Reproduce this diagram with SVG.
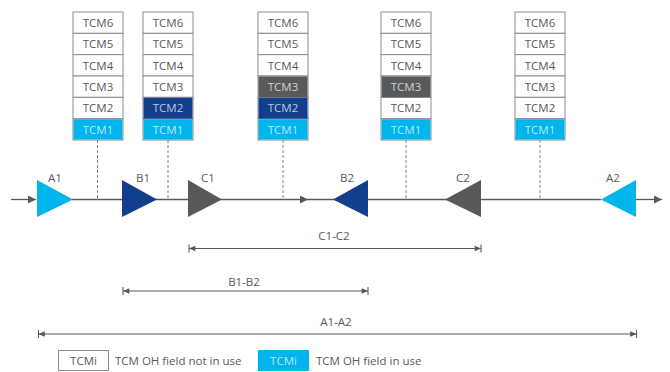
<svg xmlns="http://www.w3.org/2000/svg" width="670" height="372" viewBox="0 0 670 372">
<style>
text{font-family:"Open Sans","Noto Sans","Liberation Sans",sans-serif;font-size:11.5px;fill:#595959}
.c{text-anchor:middle}
.cell{fill:#ffffff;stroke:#8c8c8c;stroke-width:1}
.cy{fill:#00b4ec}
.db{fill:#123f8c}
.gr{fill:#58595b}
.lt{fill:#ffffff;fill-opacity:0.72}
.ln{stroke:#58595b;stroke-width:1.3;fill:none}
.dash{stroke:#808080;stroke-width:1;stroke-dasharray:3,2;fill:none}
.dim{stroke:#58595b;stroke-width:1.1;fill:none}
</style>
<defs>
<marker id="ah" viewBox="0 0 10 10" refX="10" refY="5" markerWidth="10" markerHeight="8" markerUnits="userSpaceOnUse" orient="auto"><path d="M0,0L10,5L0,10z" fill="#58595b"/></marker>
<marker id="dimA" viewBox="0 0 10 10" refX="9" refY="5" markerWidth="9" markerHeight="9" markerUnits="userSpaceOnUse" orient="auto-start-reverse"><path d="M9,0.5V9.5" stroke="#58595b" stroke-width="1.2" fill="none"/><path d="M9,5L2,2V8z" fill="#58595b"/></marker>
<g id="stk">
<rect class="cell" x="0" y="0" width="50" height="21.33"/>
<rect class="cell" x="0" y="21.33" width="50" height="21.33"/>
<rect class="cell" x="0" y="42.67" width="50" height="21.33"/>
<rect class="cell" x="0" y="64" width="50" height="21.33"/>
<rect class="cell" x="0" y="85.33" width="50" height="21.33"/>
<rect class="cell" x="0" y="106.67" width="50" height="21.33"/>
</g>
</defs>

<g id="connectors">
<line class="ln" x1="11" y1="199.5" x2="36" y2="199.5" marker-end="url(#ah)"/>
<line class="ln" x1="72" y1="199.5" x2="308" y2="199.5" marker-end="url(#ah)"/>
<line class="ln" x1="308" y1="199.5" x2="601" y2="199.5"/>
<line class="ln" x1="636" y1="199.5" x2="662" y2="199.5" marker-end="url(#ah)"/>
<line class="dash" x1="97.5" y1="140" x2="97.5" y2="199"/>
<line class="dash" x1="168" y1="140" x2="168" y2="199"/>
<line class="dash" x1="283" y1="140" x2="283" y2="199"/>
<line class="dash" x1="406" y1="140" x2="406" y2="199"/>
<line class="dash" x1="540" y1="140" x2="540" y2="199"/>
</g>

<g id="stack1">
<use href="#stk" x="73" y="12"/>
<rect class="cy" x="73.5" y="119.2" width="49" height="20.3"/>
<text class="c" x="98" y="27">TCM6</text><text class="c" x="98" y="48.3">TCM5</text><text class="c" x="98" y="69.7">TCM4</text><text class="c" x="98" y="91">TCM3</text><text class="c" x="98" y="112.3">TCM2</text><text class="c lt" x="98" y="133.7">TCM1</text>
</g>
<g id="stack2">
<use href="#stk" x="143" y="12"/>
<rect class="db" x="143.5" y="97.8" width="49" height="20.8"/>
<rect class="cy" x="143.5" y="119.2" width="49" height="20.3"/>
<text class="c" x="168" y="27">TCM6</text><text class="c" x="168" y="48.3">TCM5</text><text class="c" x="168" y="69.7">TCM4</text><text class="c" x="168" y="91">TCM3</text><text class="c lt" x="168" y="112.3">TCM2</text><text class="c lt" x="168" y="133.7">TCM1</text>
</g>
<g id="stack3">
<use href="#stk" x="258" y="12"/>
<rect class="gr" x="258.5" y="76.5" width="49" height="20.8"/>
<rect class="db" x="258.5" y="97.8" width="49" height="20.8"/>
<rect class="cy" x="258.5" y="119.2" width="49" height="20.3"/>
<text class="c" x="283" y="27">TCM6</text><text class="c" x="283" y="48.3">TCM5</text><text class="c" x="283" y="69.7">TCM4</text><text class="c lt" x="283" y="91">TCM3</text><text class="c lt" x="283" y="112.3">TCM2</text><text class="c lt" x="283" y="133.7">TCM1</text>
</g>
<g id="stack4">
<use href="#stk" x="381" y="12"/>
<rect class="gr" x="381.5" y="76.5" width="49" height="20.8"/>
<rect class="cy" x="381.5" y="119.2" width="49" height="20.3"/>
<text class="c" x="406" y="27">TCM6</text><text class="c" x="406" y="48.3">TCM5</text><text class="c" x="406" y="69.7">TCM4</text><text class="c lt" x="406" y="91">TCM3</text><text class="c" x="406" y="112.3">TCM2</text><text class="c lt" x="406" y="133.7">TCM1</text>
</g>
<g id="stack5">
<use href="#stk" x="515" y="12"/>
<rect class="cy" x="515.5" y="119.2" width="49" height="20.3"/>
<text class="c" x="540" y="27">TCM6</text><text class="c" x="540" y="48.3">TCM5</text><text class="c" x="540" y="69.7">TCM4</text><text class="c" x="540" y="91">TCM3</text><text class="c" x="540" y="112.3">TCM2</text><text class="c lt" x="540" y="133.7">TCM1</text>
</g>

<g id="A1"><polygon class="cy" points="37,180 73,199.5 37,217"/><text class="c" x="55" y="182">A1</text></g>
<g id="B1"><polygon class="db" points="122,180 157,199.5 122,217"/><text class="c" x="143" y="182">B1</text></g>
<g id="C1"><polygon class="gr" points="188,180 222,199.5 188,217"/><text class="c" x="208" y="182">C1</text></g>
<g id="B2"><polygon class="db" points="333,199.5 368,180 368,217"/><text class="c" x="347" y="182">B2</text></g>
<g id="C2"><polygon class="gr" points="445,199.5 481,180 481,217"/><text class="c" x="463" y="182">C2</text></g>
<g id="A2"><polygon class="cy" points="601,199.5 636,180 636,217"/><text class="c" x="613" y="182">A2</text></g>

<g id="dimensions">
<line class="dim" x1="189" y1="248.5" x2="481" y2="248.5" marker-start="url(#dimA)" marker-end="url(#dimA)"/>
<text class="c" x="334" y="240">C1-C2</text>
<line class="dim" x1="123" y1="291" x2="368" y2="291" marker-start="url(#dimA)" marker-end="url(#dimA)"/>
<text class="c" x="244" y="286">B1-B2</text>
<line class="dim" x1="38.5" y1="334" x2="636.5" y2="334" marker-start="url(#dimA)" marker-end="url(#dimA)"/>
<text class="c" x="336" y="326">A1-A2</text>
</g>

<g id="legend">
<rect class="cell" x="58.5" y="350.5" width="50" height="20"/>
<text class="c" x="83.5" y="365">TCMi</text>
<text x="115" y="365">TCM OH field not in use</text>
<rect class="cy" x="258" y="350" width="51" height="21"/>
<text class="c lt" x="283.5" y="365">TCMi</text>
<text x="316" y="365">TCM OH field in use</text>
</g>
</svg>
